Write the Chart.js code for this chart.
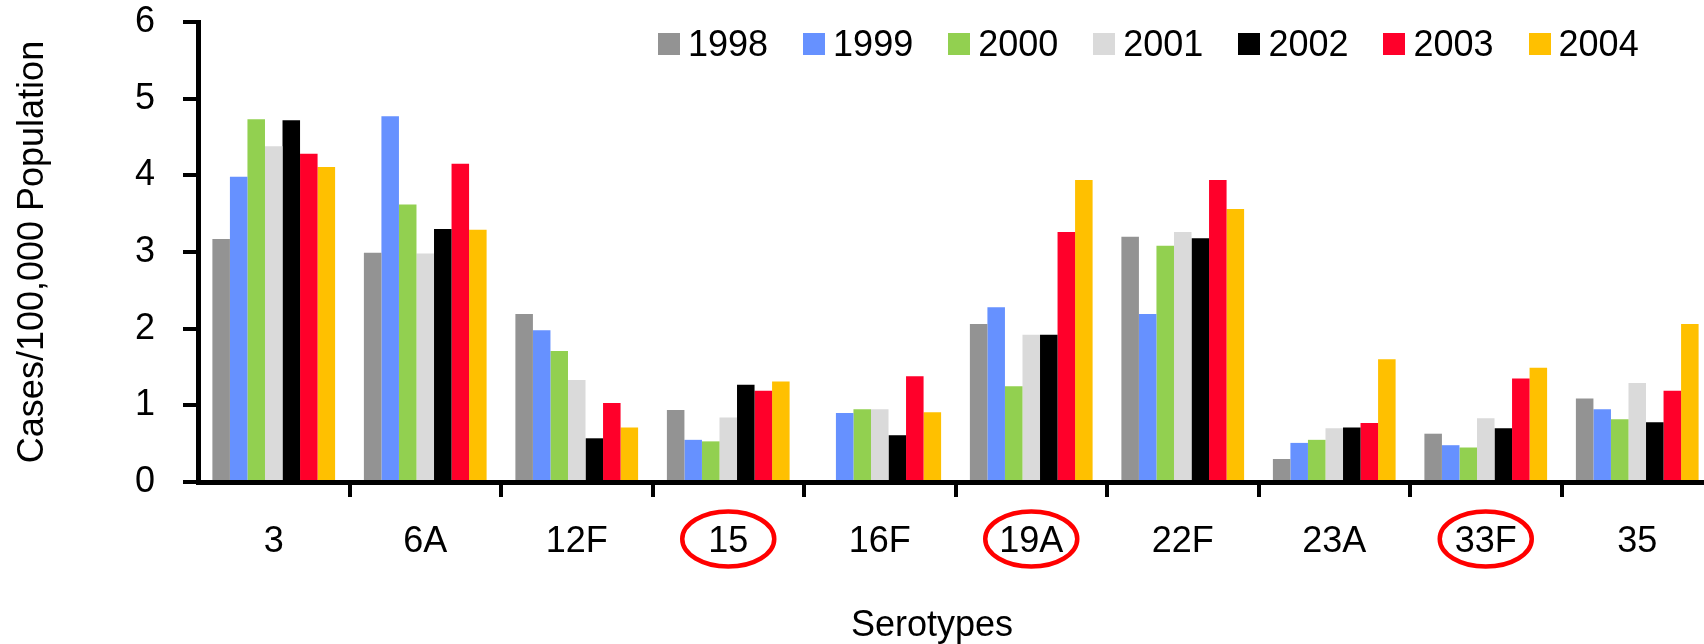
<!DOCTYPE html>
<html>
<head>
<meta charset="utf-8">
<title>Serotypes</title>
<script src="https://cdn.jsdelivr.net/npm/chart.js@4.4.1/dist/chart.umd.min.js"></script>
<style>
    html, body { margin: 0; padding: 0; background: #fff; overflow: hidden; }
    #wrap { position: relative; width: 1713px; height: 644px; }
    .txt { font-family: 'Liberation Sans', Arial, sans-serif; font-size: 36px; color: #000; }
    #legend { position: absolute; left: 658px; top: 24px; display: flex; align-items: center; }
    .item { display: flex; align-items: center; margin-right: 35px; line-height: 40px; }
    .box { width: 22px; height: 22px; margin-right: 8px; }
    #xtitle { position: absolute; left: 932px; top: 604px; transform: translateX(-50%); line-height: 40px; }
</style>
</head>
<body>
<div id="wrap">
    <canvas id="serotypeChart" width="1713" height="644"></canvas>
    <div id="legend" class="txt"></div>
    <div id="xtitle" class="txt">Serotypes</div>
</div>
<script>
// 数据
const serotypes = ['3', '6A', '12F', '15', '16F', '19A', '22F', '23A', '33F', '35'];
const years = ['1998', '1999', '2000', '2001', '2002', '2003', '2004'];
const colors = ['#939393', '#6691FF', '#92D050', '#DADADA', '#000000', '#FF002A', '#FFC000'];

const cases1998 = [3.17, 2.99, 2.19, 0.94, 0,    2.06, 3.20, 0.30, 0.63, 1.09];
const cases1999 = [3.98, 4.77, 1.98, 0.55, 0.90, 2.28, 2.19, 0.51, 0.48, 0.95];
const cases2000 = [4.73, 3.62, 1.71, 0.53, 0.95, 1.25, 3.08, 0.55, 0.45, 0.82];
const cases2001 = [4.38, 2.98, 1.33, 0.84, 0.95, 1.92, 3.26, 0.70, 0.83, 1.29];
const cases2002 = [4.72, 3.30, 0.57, 1.27, 0.61, 1.92, 3.18, 0.71, 0.70, 0.78];
const cases2003 = [4.28, 4.15, 1.03, 1.19, 1.38, 3.26, 3.94, 0.77, 1.35, 1.19];
const cases2004 = [4.11, 3.29, 0.71, 1.31, 0.91, 3.94, 3.56, 1.60, 1.49, 2.06];

const yTicks = [0, 1, 2, 3, 4, 5, 6];
const circledSerotypes = ['15', '19A', '33F'];

const seriesList = [cases1998, cases1999, cases2000, cases2001, cases2002, cases2003, cases2004];
const FONT = "'Liberation Sans', Arial, sans-serif";

// 图例（HTML）
const legendEl = document.getElementById('legend');
years.forEach((y, i) => {
    const item = document.createElement('div');
    item.className = 'item';
    const box = document.createElement('span');
    box.className = 'box';
    box.style.background = colors[i];
    const label = document.createElement('span');
    label.textContent = y;
    item.appendChild(box);
    item.appendChild(label);
    legendEl.appendChild(item);
});

// 红圈标注
const labelCircles = {
    id: 'labelCircles',
    afterDraw(chart) {
        const xScale = chart.scales.x;
        const ctx = chart.ctx;
        ctx.save();
        ctx.strokeStyle = '#FF0000';
        ctx.lineWidth = 4.5;
        circledSerotypes.forEach(s => {
            const cx = xScale.getPixelForValue(serotypes.indexOf(s));
            const cy = xScale.top + 57;
            ctx.beginPath();
            ctx.ellipse(cx, cy, 46, 27.5, 0, 0, Math.PI * 2);
            ctx.stroke();
        });
        ctx.restore();
    }
};

const ctx = document.getElementById('serotypeChart').getContext('2d');
window.serotypeChart = new Chart(ctx, {
    type: 'bar',
    data: {
        labels: serotypes,
        datasets: years.map((y, i) => ({
            label: y,
            data: seriesList[i],
            backgroundColor: colors[i],
            borderWidth: 0,
            categoryPercentage: 0.81,
            barPercentage: 1
        }))
    },
    options: {
        responsive: false,
        animation: false,
        layout: { padding: { top: 22, left: 0, right: 0, bottom: 0 } },
        plugins: {
            legend: { display: false },
            tooltip: { enabled: false }
        },
        scales: {
            x: {
                z: 1,
                afterFit(scale) { scale.height = 162; },
                grid: {
                    offset: true,
                    drawOnChartArea: false,
                    drawTicks: true,
                    tickLength: 15,
                    lineWidth: 4,
                    color: c => (c.index === 0 ? 'rgba(0,0,0,0)' : '#000')
                },
                border: { display: true, color: '#000', width: 5 },
                ticks: {
                    color: '#000',
                    padding: 23,
                    maxRotation: 0,
                    font: { family: FONT, size: 36 }
                }
            },
            y: {
                min: 0,
                max: 6,
                afterFit(scale) {
                    scale.width = 198;
                    // 顶部不额外留白
                    scale.paddingTop = 0;
                    scale.paddingBottom = 0;
                },
                afterBuildTicks(scale) { scale.ticks = yTicks.map(v => ({ value: v })); },
                grid: {
                    drawOnChartArea: false,
                    drawTicks: true,
                    tickLength: 15,
                    lineWidth: 4,
                    color: '#000'
                },
                border: { display: true, color: '#000', width: 5 },
                ticks: {
                    color: '#000',
                    padding: 28,
                    font: { family: FONT, size: 36 }
                },
                title: {
                    display: true,
                    text: 'Cases/100,000 Population',
                    color: '#000',
                    padding: { top: 11, bottom: 0 },
                    font: { family: FONT, size: 36 }
                }
            }
        }
    },
    plugins: [labelCircles]
});
</script>
</body>
</html>
